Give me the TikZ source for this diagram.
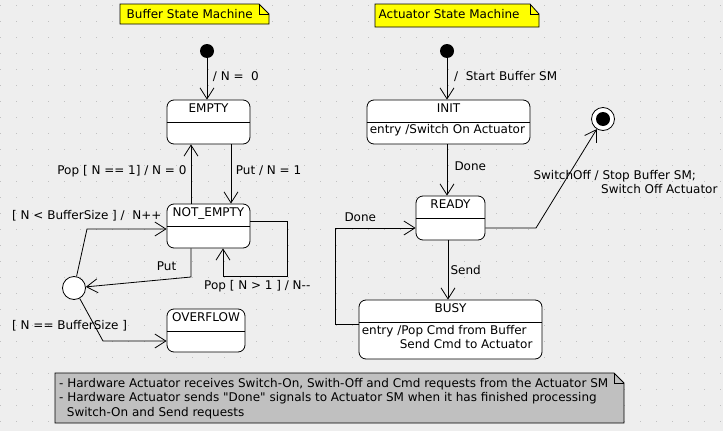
\documentclass[tikz,border=0pt]{standalone}
\usepackage{fontspec}
\newfontfamily\uifont{DejaVu Sans}
\usetikzlibrary{arrows.meta,positioning,calc}
\definecolor{bgc}{RGB}{238,238,238}
\definecolor{dotc}{RGB}{192,192,192}
\definecolor{noteyellow}{RGB}{255,255,0}
\definecolor{notegray}{RGB}{192,192,192}

\begin{document}
\begin{tikzpicture}[x=1pt, y=-1pt,
    font=\uifont\fontsize{12}{14.3}\selectfont,
    every node/.style={inner sep=0pt},
    state/.style={draw, fill=white, rounded corners=7pt, line width=0.8pt}, % state boxes
    sname/.style={anchor=base},
    initial/.style={circle, fill=black, minimum size=14pt},
    choice/.style={circle, draw, fill=white, line width=0.8pt, minimum size=23pt},
    trans/.style={draw, line width=0.8pt,
      -{Straight Barb[length=11pt,width=14pt,line width=0.8pt]}},
    lbl/.style={anchor=base west},
    notebox/.style={draw, line width=0.8pt}
  ]
  % background with dot grid
  \useasboundingbox[fill=bgc] (0,0) rectangle (723,431);
  \foreach \i in {0,...,45}
  \foreach \j in {0,...,26}
  \fill[dotc] (\i*16,5+\j*16) rectangle ++(1.2,1.2);

  % title notes
  \draw[notebox, fill=noteyellow] (120,4) -- (259,4) -- (269,14) |- (120,24) -- cycle;
  \draw[notebox] (259,4) |- (269,14);
  \node[lbl] (bufnote) at (126.5,19) {Buffer State Machine};

  \draw[notebox, fill=noteyellow] (375,4) -- (530,4) -- (539,14) |- (375,27) -- cycle;
  \draw[notebox] (530,4) |- (539,14);
  \node[lbl] (actnote) at (378.5,19) {Actuator State Machine};

  % buffer state machine
  \node[initial] (ini1) at (207,51) {};
  \node[state, minimum width=83pt, minimum height=44pt] (empty) at (208.5,122) {};
  \node[state, minimum width=83pt, minimum height=44pt] (notempty) at (208.5,226) {};
  \node[state, minimum width=78pt, minimum height=43pt] (overflow) at (206,330.5) {};
  \node[choice] (choice) at (74,288) {};
  \foreach \s/\t in {empty/EMPTY, notempty/NOT\_EMPTY, overflow/OVERFLOW} {
    \node[sname] (\s-name) at ([yshift=-12.7pt]\s.north) {\t};
    \draw[line width=0.8pt] ([yshift=-23pt]\s.north west) -- ([yshift=-23pt]\s.north east);
  }

  \draw[trans] (ini1) -- (ini1 |- empty.north);
  \node[lbl] (lblinit1) at (212.7,80) {/ N =\ \ 0};

  \draw[trans] ([xshift=-17.5pt]notempty.north) -- ([xshift=-17.5pt]empty.south);
  \node[anchor=base east] (lblpop1) at (186.7,174.3) {Pop [ N == 1] / N = 0};
  \draw[trans] ([xshift=22.5pt]empty.south) -- ([xshift=22.5pt]notempty.north);
  \node[lbl] (lblput1) at (235.7,174.3) {Put / N = 1};

  \draw[trans] ([yshift=5pt]notempty.east) -| (287,276) -| ([xshift=14.5pt]notempty.south);
  \node[lbl] (lblpop2) at (204,289.3) {Pop [ N > 1 ] / N--};

  \draw[trans] ([xshift=-17.5pt]notempty.south) -- (191,277) -- (choice);
  \node[lbl] (lblput2) at (156.7,270.7) {Put};

  \draw[trans] (choice) -- (87,229) -- ([yshift=-3pt]notempty.west);
  \node[lbl] (lblless) at (12,219.3) {[ N < BufferSize ] /\ \ N++};

  \draw[trans] (choice) -- (103,341) -- ([yshift=-10.5pt]overflow.west);
  \node[lbl] (lblfull) at (12,329) {[ N == BufferSize ]};

  % actuator state machine
  \node[initial] (ini2) at (447,51) {};
  \node[state, minimum width=163pt, minimum height=44pt] (init) at (448.5,122) {};
  \node[state, minimum width=69pt, minimum height=44pt] (ready) at (450.5,218) {};
  \node[state, minimum width=183pt, minimum height=59pt] (busy) at (450.5,329.5) {};
  \node[choice] (fin) at (603,119) {};
  \fill (fin) circle[radius=7pt];
  \foreach \s/\t in {init/INIT, ready/READY, busy/BUSY} {
    \node[sname] (\s-name) at ([yshift=-13pt]\s.north) {\t};
    \draw[line width=0.8pt] ([yshift=-23pt]\s.north west) -- ([yshift=-23pt]\s.north east);
  }
  \node[lbl] (init-entry) at ([xshift=3pt,yshift=-33.5pt]init.north west) {entry /Switch On Actuator};
  \node[lbl] (busy-entry) at ([xshift=3pt,yshift=-35pt]busy.north west) {entry /Pop Cmd from Buffer};
  \node[lbl] (busy-send) at ([xshift=41pt,yshift=-49.3pt]busy.north west) {Send Cmd to Actuator};

  \draw[trans] (ini2) -- (ini2 |- init.north);
  \node[lbl] (lblinit2) at (454,80) {/\ \ Start Buffer SM};

  \draw[trans] (ini2 |- init.south) -- (ini2 |- ready.north);
  \node[lbl] (lbldone1) at (454.3,170.7) {Done};

  \draw[trans] ([xshift=-2.5pt]ready.south) -- ([xshift=-2.5pt]ready.south |- busy.north);
  \node[lbl] (lblsend) at (450.3,274.7) {Send};

  \draw[trans] ([yshift=5.5pt]busy.west) -| (335,228) -- ([yshift=-10pt]ready.west);
  \node[lbl] (lbldone2) at (344.3,221.7) {Done};

  \draw[trans] ([yshift=-10pt]ready.east) -- (536,228) -- (fin);
  \node[anchor=north west, align=left] (lbloff) at (533.3,170.2)
  {SwitchOff / Stop Buffer SM;\\\hspace*{67.7pt}Switch Off Actuator};

  % hardware note
  \draw[notebox, fill=notegray] (55,373) -- (614,373) -- (624,383) |- (55,423) -- cycle;
  \draw[notebox] (614,373) |- (624,383);
  \node[anchor=north west, align=left] (hwnote) at (59,378.2)
  {- Hardware Actuator receives Switch-On, Swith-Off and Cmd requests from the Actuator SM\\
    - Hardware Actuator sends "Done" signals to Actuator SM when it has finished processing\\
    \hspace*{7.7pt}Switch-On and Send requests};
\end{tikzpicture}
\end{document}
